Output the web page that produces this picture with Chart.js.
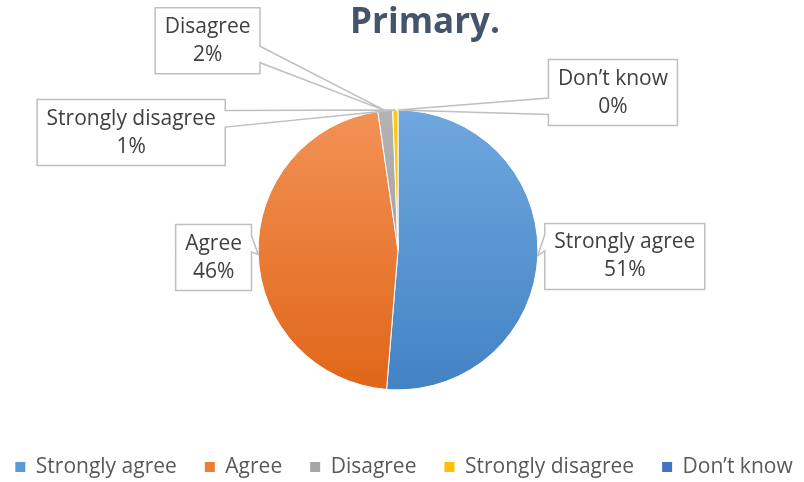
<!DOCTYPE html>
<html>
<head>
<meta charset="utf-8">
<script src="https://cdn.jsdelivr.net/npm/chart.js@4.4.0/dist/chart.umd.min.js"></script>
<style>
html,body{margin:0;padding:0;background:#ffffff;}
#wrap{width:804px;height:482px;position:relative;}
</style>
</head>
<body>
<div id="wrap"><canvas id="c"></canvas></div>
<script>
// ---- data ----
const categories = ['Strongly agree', 'Agree', 'Disagree', 'Strongly disagree', 'Don\u2019t know'];
const values = [51.3, 46.4, 1.7, 0.6, 0];
const titleText = 'Primary.';

// ---- colours ----
const topColors = ['#6FA7DE', '#F29256', '#B3B3B3', '#FFC81A', '#4F7BCB'];
const bottomColors = ['#4283C4', '#E06618', '#969696', '#F2B600', '#3B67B6'];
const legendColors = ['#5B9BD5', '#ED7D31', '#A5A5A5', '#FFC000', '#4472C4'];

function sliceFill(context) {
  const chart = context.chart;
  const area = chart.chartArea;
  const i = context.dataIndex;
  if (!area) return legendColors[i];
  const cy = (area.top + area.bottom) / 2;
  const r = Math.min(area.width, area.height) / 2 * 0.795;
  const g = chart.ctx.createLinearGradient(0, cy - r, 0, cy + r);
  g.addColorStop(0, topColors[i]);
  g.addColorStop(1, bottomColors[i]);
  return g;
}

const calloutPlugin = {
  id: 'callouts',
  afterDatasetsDraw(chart, args, opts) {
    const meta = chart.getDatasetMeta(0);
    const ds = chart.data.datasets[0];
    const total = ds.data.reduce((a, b) => a + b, 0);
    const ctx = chart.ctx;
    ctx.save();
    ctx.font = opts.font;
    meta.data.forEach((arc, i) => {
      const p = arc.getProps(['x', 'y', 'startAngle', 'endAngle', 'outerRadius'], true);
      const mid = (p.startAngle + p.endAngle) / 2;
      const tx = p.x + Math.cos(mid) * p.outerRadius;
      const ty = p.y + Math.sin(mid) * p.outerRadius;
      const lines = [chart.data.labels[i], Math.round(ds.data[i] / total * 100) + '%'];
      const tw = Math.max(...lines.map(s => ctx.measureText(s).width));
      const w = tw + 2 * opts.padX;
      const h = lines.length * opts.lineHeight + 2 * opts.padY;
      const off = opts.offsets[i];
      const cx = p.x + off[0] * p.outerRadius;
      const cy = p.y + off[1] * p.outerRadius;
      const l = cx - w / 2, t = cy - h / 2, r = cx + w / 2, b = cy + h / 2;
      const dx = tx - cx, dy = ty - cy;
      const vertical = Math.abs(dy) > Math.abs(dx) * h / w;
      const x1 = l + w * (dx > 0 ? 7 : 2) / 12, x2 = l + w * (dx > 0 ? 10 : 5) / 12;
      const y1 = t + h * (dy > 0 ? 7 : 2) / 12, y2 = t + h * (dy > 0 ? 10 : 5) / 12;
      ctx.beginPath();
      ctx.moveTo(l, t);
      if (vertical && dy < 0) { ctx.lineTo(x1, t); ctx.lineTo(tx, ty); ctx.lineTo(x2, t); }
      ctx.lineTo(r, t);
      if (!vertical && dx > 0) { ctx.lineTo(r, y1); ctx.lineTo(tx, ty); ctx.lineTo(r, y2); }
      ctx.lineTo(r, b);
      if (vertical && dy > 0) { ctx.lineTo(x2, b); ctx.lineTo(tx, ty); ctx.lineTo(x1, b); }
      ctx.lineTo(l, b);
      if (!vertical && dx < 0) { ctx.lineTo(l, y2); ctx.lineTo(tx, ty); ctx.lineTo(l, y1); }
      ctx.closePath();
      ctx.fillStyle = '#ffffff';
      ctx.fill();
      ctx.lineWidth = opts.lineWidth;
      ctx.strokeStyle = opts.borderColor;
      ctx.lineJoin = 'miter';
      ctx.stroke();
      ctx.fillStyle = opts.color;
      ctx.textAlign = 'center';
      ctx.textBaseline = 'middle';
      lines.forEach((s, k) => {
        ctx.fillText(s, cx, cy + (k - (lines.length - 1) / 2) * opts.lineHeight);
      });
    });
    ctx.restore();
  }
};

const shiftPlugin = {
  id: 'shiftBlocks',
  afterLayout(chart, args, opts) {
    if (chart.titleBlock) { chart.titleBlock.left += opts.titleShift; chart.titleBlock.right += opts.titleShift; }
    if (chart.legend) {
      chart.legend.left += opts.legendShift; chart.legend.right += opts.legendShift;
      chart.legend.top += opts.legendDrop; chart.legend.bottom += opts.legendDrop;
    }
    const a = chart.chartArea;
    if (a) { a.left += opts.areaShift; a.right += opts.areaShift; }
  }
};

new Chart(document.getElementById('c'), {
  type: 'pie',
  data: {
    labels: categories,
    datasets: [{
      data: values,
      backgroundColor: sliceFill,
      borderColor: '#ffffff',
      borderWidth: 1,
      hoverOffset: 0,
      radius: '79.5%'
    }]
  },
  options: {
    responsive: true,
    maintainAspectRatio: false,
    animation: false,
    events: [],
    layout: { padding: { left: -24, right: -16, top: 0, bottom: -3.5 } },
    plugins: {
      tooltip: { enabled: false },
      title: {
        display: true,
        text: titleText,
        color: '#44546A',
        font: { family: '"Open Sans", sans-serif', size: 35, weight: 'bold' },
        padding: { top: 2, bottom: 29.5 }
      },
      legend: {
        display: true,
        position: 'bottom',
        labels: {
          boxWidth: 10,
          boxHeight: 10,
          padding: 28,
          color: '#595959',
          font: { family: '"Open Sans", sans-serif', size: 21 },
          generateLabels(chart) {
            const items = Chart.overrides.pie.plugins.legend.labels.generateLabels(chart);
            items.forEach((it, i) => { it.fillStyle = legendColors[i]; it.strokeStyle = legendColors[i]; it.lineWidth = 0; });
            return items;
          }
        }
      },
      callouts: {
        font: '21px "Open Sans", sans-serif',
        color: '#404040',
        borderColor: '#BFBFBF',
        lineWidth: 1.5,
        padX: 9.5,
        padY: 5,
        lineHeight: 28,
        offsets: [[1.621, 0.046], [-1.318, 0.054], [-1.361, -1.496], [-1.907, -0.839], [1.536, -1.125]]
      },
      shiftBlocks: { titleShift: 27, legendShift: 6, legendDrop: 2, areaShift: -4 }
    }
  },
  plugins: [calloutPlugin, shiftPlugin]
});
</script>
</body>
</html>
